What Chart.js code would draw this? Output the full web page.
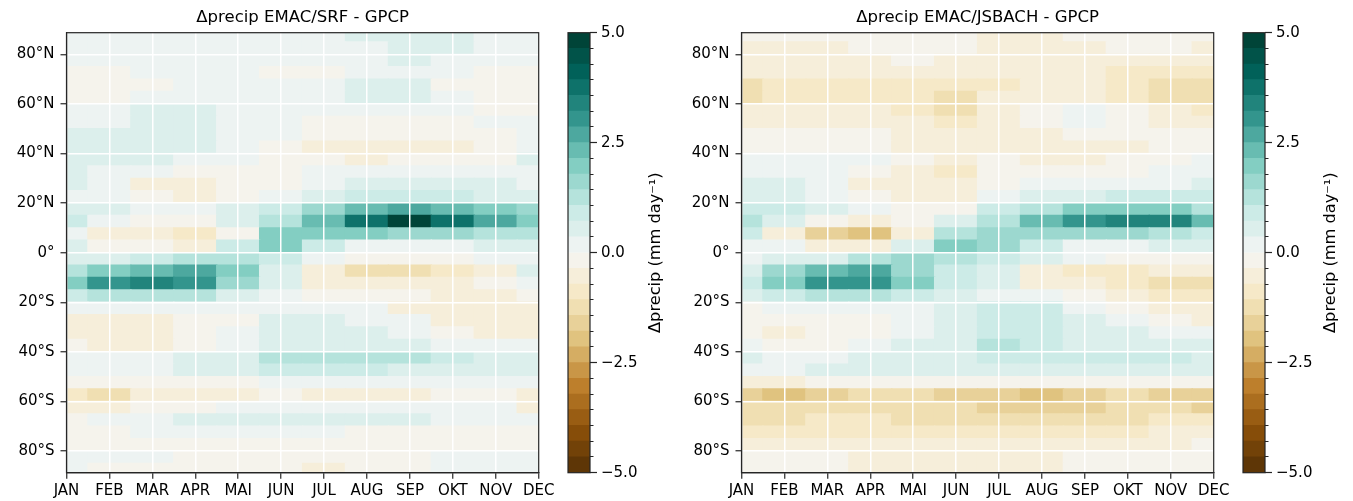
<!DOCTYPE html>
<html>
<head>
<meta charset="utf-8">
<script src="https://cdn.jsdelivr.net/npm/chart.js@4.4.1/dist/chart.umd.min.js"></script>
<style>
html,body{margin:0;padding:0;background:#fff;}
#wrap{position:relative;width:1353px;height:501px;overflow:hidden;background:#fff;}
canvas{position:absolute;top:0;}
</style>
</head>
<body>
<div id="wrap">
<canvas id="mapL" width="560" height="501" style="left:0px"></canvas>
<canvas id="cbarL" width="115" height="501" style="left:560px"></canvas>
<canvas id="mapR" width="560" height="501" style="left:675px"></canvas>
<canvas id="cbarR" width="118" height="501" style="left:1235px"></canvas>
</div>
<script>
// ---------------- data ----------------
const months = ['JAN','FEB','MAR','APR','MAI','JUN','JUL','AUG','SEP','OKT','NOV','DEC'];
const latitudes = [87.5,82.5,77.5,72.5,67.5,62.5,57.5,52.5,47.5,42.5,37.5,32.5,27.5,22.5,17.5,12.5,7.5,2.5,
  -2.5,-7.5,-12.5,-17.5,-22.5,-27.5,-32.5,-37.5,-42.5,-47.5,-52.5,-57.5,-62.5,-67.5,-72.5,-77.5,-82.5,-87.5];
const latTicks = [80,60,40,20,0,-20,-40,-60,-80];
const cbarTicks = [-5,-2.5,0,2.5,5];
const titleSRF = 'Δprecip EMAC/SRF - GPCP';
const titleJSBACH = 'Δprecip EMAC/JSBACH - GPCP';
const cbarLabel = 'Δprecip (mm day⁻¹)';

// Δprecip EMAC/SRF - GPCP (rows: latitudes, cols: months)
const srfMinusGpcp = [
  [0.2,0.2,0.2,0.2,0.2,0.2,0.2,0.4,0.5,0.4,0.2,0.2],
  [0.2,0.2,0.2,0.2,0.2,0.2,0.2,0.3,0.5,0.4,0.2,0.2],
  [0.2,0.2,0.2,0.2,0.2,0.2,0.2,0.2,0.4,0.3,0.2,0.2],
  [-0.2,-0.1,0.2,0.2,0.2,-0.1,-0.2,0.2,0.2,0.1,-0.1,-0.1],
  [-0.2,-0.2,-0.1,0.2,0.2,0.1,0.2,0.5,0.4,-0.1,-0.2,-0.2],
  [-0.2,-0.1,0.3,0.3,0.3,0.2,0.2,0.5,0.4,0.1,-0.1,-0.1],
  [0.2,0.2,0.5,0.4,0.2,0.2,0.2,0.2,0.2,0.2,-0.1,-0.2],
  [0.3,0.3,0.5,0.5,0.2,0.2,-0.1,-0.1,-0.1,-0.1,0.1,0.1],
  [0.5,0.4,0.5,0.5,0.2,0.1,-0.3,-0.3,-0.3,-0.3,-0.1,0.1],
  [0.5,0.5,0.5,0.4,0.2,-0.1,-0.4,-0.6,-0.6,-0.4,-0.2,0.1],
  [0.5,0.5,0.4,0.3,0.2,-0.1,-0.3,-0.4,-0.3,-0.3,-0.1,0.4],
  [0.4,0.3,0.1,-0.2,-0.3,-0.3,0.1,0.2,0.2,0.2,0.1,0.2],
  [0.4,0.2,-0.4,-0.5,-0.3,-0.3,0.3,0.5,0.5,0.5,0.4,0.3],
  [0.2,0.1,-0.3,-0.6,-0.2,0.1,0.6,0.8,0.9,0.8,0.7,0.6],
  [0.6,0.5,0.2,0.1,0.4,0.8,1.5,2.2,2.6,2.3,1.8,1.5],
  [0.8,0.2,-0.3,-0.3,0.6,1.3,2.3,3.8,4.8,3.8,2.8,2.1],
  [0.3,-0.5,-0.6,-1.0,-0.2,1.9,2.0,1.8,1.7,1.5,1.3,1.2],
  [0.4,-0.1,-0.3,-0.4,0.8,2.1,0.8,0.3,0.1,0.2,0.4,0.5],
  [0.5,0.6,0.8,1.2,1.3,0.8,0.2,-0.2,-0.2,-0.2,0.1,0.2],
  [1.2,1.8,2.2,2.8,1.8,0.6,-0.5,-1.1,-1.2,-0.8,-0.4,0.4],
  [2.0,2.9,3.3,3.0,1.5,0.5,-0.5,-0.7,-0.7,-0.6,-0.3,0.3],
  [1.0,1.3,1.4,1.1,0.6,0.3,-0.2,-0.3,-0.3,-0.4,-0.4,-0.2],
  [0.1,0.2,0.2,0.2,0.2,0.3,0.1,0.1,-0.4,-0.5,-0.5,-0.5],
  [-0.4,-0.4,-0.4,-0.3,-0.1,0.4,0.4,0.2,0.1,-0.5,-0.5,-0.5],
  [-0.5,-0.5,-0.5,-0.3,0.1,0.4,0.5,0.4,0.2,-0.2,-0.4,-0.4],
  [-0.2,-0.4,-0.4,-0.1,0.2,0.5,0.6,0.6,0.5,0.3,0.2,0.1],
  [0.1,0.1,0.2,0.4,0.6,1.2,1.2,1.2,1.1,0.8,0.6,0.5],
  [0.1,0.2,0.3,0.6,0.7,0.9,0.9,0.8,0.7,0.7,0.5,0.4],
  [-0.3,-0.3,-0.3,-0.2,-0.1,0.1,0.2,0.2,0.1,0.3,0.1,0.1],
  [-0.8,-1.2,-0.7,-0.5,-0.4,-0.3,-0.4,-0.4,-0.4,-0.3,-0.2,-0.7],
  [-0.4,-0.5,-0.3,-0.1,0.2,0.3,0.2,0.3,0.3,0.2,0.1,-0.4],
  [-0.1,0.1,0.3,0.6,0.7,0.7,0.5,0.5,0.4,0.2,0.1,0.1],
  [-0.2,-0.2,0.1,0.3,0.3,0.3,0.1,-0.1,-0.2,-0.2,-0.2,-0.2],
  [-0.1,-0.2,-0.2,-0.2,-0.2,-0.2,-0.2,-0.2,-0.2,-0.2,-0.2,-0.2],
  [0.1,0.1,0.1,-0.2,-0.2,-0.2,-0.2,-0.2,-0.2,0.1,0.1,0.1],
  [0.1,-0.1,-0.2,-0.2,-0.2,-0.3,-0.4,-0.3,-0.2,0.1,0.1,0.1]
];

// Δprecip EMAC/JSBACH - GPCP (rows: latitudes, cols: months)
const jsbachMinusGpcp = [
  [-0.2,-0.2,-0.2,-0.2,-0.2,-0.2,-0.4,-0.4,-0.3,-0.2,-0.2,-0.3],
  [-0.4,-0.4,-0.4,-0.3,-0.2,-0.2,-0.5,-0.5,-0.5,-0.3,-0.3,-0.4],
  [-0.5,-0.5,-0.5,-0.4,-0.3,-0.4,-0.5,-0.5,-0.5,-0.5,-0.5,-0.5],
  [-0.6,-0.6,-0.6,-0.6,-0.6,-0.6,-0.6,-0.5,-0.7,-0.9,-0.9,-0.9],
  [-1.2,-0.9,-0.9,-0.9,-0.9,-1.0,-0.8,-0.5,-0.6,-1.0,-1.2,-1.2],
  [-1.1,-0.9,-0.9,-0.9,-0.9,-1.2,-0.5,-0.4,-0.4,-0.9,-1.2,-1.1],
  [-0.7,-0.7,-0.6,-0.6,-1.0,-1.2,-0.5,-0.2,0.1,-0.3,-0.6,-0.8],
  [-0.6,-0.6,-0.5,-0.5,-0.7,-0.8,-0.5,-0.2,0.1,-0.2,-0.4,-0.5],
  [-0.2,-0.2,-0.2,-0.3,-0.5,-0.6,-0.5,-0.5,-0.3,-0.2,-0.2,-0.3],
  [-0.2,-0.2,-0.2,-0.2,-0.4,-0.5,-0.5,-0.5,-0.5,-0.4,-0.2,-0.2],
  [0.2,0.2,0.2,0.1,-0.3,-0.5,-0.3,-0.5,-0.4,-0.3,-0.2,0.1],
  [0.3,0.2,0.1,-0.3,-0.7,-0.8,-0.3,-0.2,-0.2,-0.1,0.1,0.2],
  [0.5,0.4,0.1,-0.4,-0.7,-0.7,-0.2,0.1,0.2,0.3,0.3,0.4],
  [0.6,0.4,0.1,-0.3,-0.5,-0.5,0.2,0.5,0.7,0.8,0.8,0.8],
  [1.0,0.8,0.5,0.1,-0.2,-0.2,0.8,1.4,1.9,2.1,1.8,1.3],
  [1.2,0.5,-0.3,-0.4,-0.2,0.5,1.4,2.3,3.0,3.4,3.5,2.4],
  [0.8,-0.4,-1.5,-2.0,-0.6,1.2,1.5,1.6,1.5,1.5,1.3,1.0],
  [0.3,0.1,-0.4,-0.5,0.5,1.8,1.6,0.9,0.2,0.2,0.4,0.6],
  [0.3,0.4,0.6,1.1,1.6,1.2,1.0,0.4,0.1,-0.1,-0.2,-0.3],
  [0.5,1.5,2.3,2.6,1.6,0.9,0.4,-0.5,-0.8,-1.0,-0.7,-0.5],
  [0.8,2.0,3.0,3.2,2.0,0.9,0.5,-0.4,-0.7,-0.8,-1.1,-1.1],
  [0.4,0.9,1.3,1.3,0.9,0.6,0.3,0.1,-0.3,-0.6,-0.9,-1.0],
  [-0.2,0.2,0.2,0.2,0.3,0.5,0.8,0.8,0.1,-0.2,-0.5,-0.6],
  [-0.2,-0.3,-0.2,-0.2,0.1,0.5,0.8,0.8,0.4,0.1,-0.2,-0.4],
  [-0.2,-0.4,-0.3,-0.2,0.1,0.6,1.0,0.9,0.6,0.5,0.3,0.1],
  [0.1,-0.1,-0.1,0.1,0.4,0.6,1.2,0.9,0.7,0.6,0.5,0.4],
  [0.5,0.3,0.2,0.4,0.6,0.7,0.8,0.8,0.8,0.8,0.8,0.7],
  [0.2,0.3,0.4,0.6,0.7,0.7,0.6,0.5,0.5,0.5,0.5,0.5],
  [-0.6,-0.5,-0.3,-0.2,-0.1,-0.2,-0.3,-0.3,-0.3,-0.3,-0.3,-0.3],
  [-1.6,-2.0,-1.6,-1.4,-1.4,-1.5,-1.7,-1.9,-1.7,-1.3,-1.5,-1.7],
  [-1.3,-1.4,-1.3,-1.2,-1.2,-1.3,-1.5,-1.6,-1.5,-1.4,-1.4,-1.5],
  [-1.1,-1.1,-1.0,-1.0,-1.1,-1.2,-1.2,-1.2,-1.2,-1.1,-1.0,-1.0],
  [-0.9,-0.9,-0.8,-0.8,-0.8,-0.9,-0.9,-0.9,-0.9,-0.8,-0.7,-0.6],
  [-0.5,-0.6,-0.6,-0.6,-0.6,-0.6,-0.6,-0.6,-0.5,-0.5,-0.4,-0.3],
  [-0.2,-0.2,-0.2,-0.4,-0.5,-0.5,-0.5,-0.5,-0.2,-0.2,-0.2,-0.2],
  [-0.2,-0.2,-0.2,-0.4,-0.5,-0.5,-0.5,-0.4,-0.2,-0.2,-0.2,-0.2]
];

// ---------------- style / colormap ----------------
const FONT = "'DejaVu Sans', sans-serif";
const INK = '#262626';
const VMIN = -5, VMAX = 5, NBINS = 28;
const BRBG = [[84,48,5],[140,81,10],[191,129,45],[223,194,125],[246,232,195],[245,245,245],
              [199,234,229],[128,205,193],[53,151,143],[1,102,94],[0,60,48]];
function binColor(i){
  const t = (i + 0.5) / NBINS * 10;
  const k = Math.min(9, Math.floor(t)), f = t - k;
  const a = BRBG[k], b = BRBG[k+1];
  const c = a.map((v,j)=>Math.round(v + (b[j]-v)*f));
  return `rgb(${c[0]},${c[1]},${c[2]})`;
}
function valueColor(v){
  let i = Math.floor((v - VMIN) / (VMAX - VMIN) * NBINS);
  i = Math.max(0, Math.min(NBINS-1, i));
  return binColor(i);
}
const halfCell = Math.abs(latitudes[0]-latitudes[1]) / 2;

const framePlugin = {
  id: 'frame',
  afterDraw(chart){
    const {ctx, chartArea:a} = chart;
    ctx.save();
    ctx.strokeStyle = INK; ctx.lineWidth = 1.2;
    ctx.strokeRect(a.left, a.top, a.right - a.left, a.bottom - a.top);
    ctx.restore();
  }
};
const cbarLabelPlugin = {
  id: 'cbarLabel',
  afterDraw(chart, args, opts){
    if (!opts || !opts.text) return;
    const ctx = chart.ctx, a = chart.chartArea;
    ctx.save();
    ctx.translate(opts.x, (a.top + a.bottom) / 2);
    ctx.rotate(-Math.PI / 2);
    ctx.textAlign = 'center'; ctx.textBaseline = 'middle';
    ctx.font = `${opts.size}px ${FONT}`;
    ctx.fillStyle = '#000';
    ctx.fillText(opts.text, 0, 0);
    ctx.restore();
  }
};

function heatmap(id, title, grid){
  const pts = [], cols = [];
  latitudes.forEach((lat, r) => {
    months.forEach((m, c) => {
      pts.push({x: c, y: [lat - halfCell, lat + halfCell]});
      cols.push(valueColor(grid[r][c]));
    });
  });
  return new Chart(document.getElementById(id), {
    type: 'bar',
    data: { datasets: [{ data: pts, backgroundColor: cols, borderWidth: 0,
      barPercentage: 1, categoryPercentage: 1, inflateAmount: 0.7, clip: 0, grouped: false }] },
    options: {
      responsive: false, animation: false, events: [],
      layout: { padding: { left: 0, right: 21.3, top: 0, bottom: 0 } },
      plugins: {
        legend: { display: false }, tooltip: { enabled: false },
        title: { display: true, text: title, fullSize: false, color: '#000',
          font: { family: FONT, size: 16.5, weight: 'normal' }, padding: { top: 8.3, bottom: 4.6 } }
      },
      scales: {
        x: {
          type: 'linear', min: 0, max: months.length - 1, offset: false,
          afterBuildTicks: s => { s.ticks = months.map((m, i) => ({ value: i })); },
          afterFit: s => { s.height = 28.3; },
          ticks: { callback: v => months[v], color: '#000', font: { family: FONT, size: 15 },
            padding: 3, maxRotation: 0, minRotation: 0, autoSkip: false, z: 2 },
          grid: { z: 1, color: '#ffffff', lineWidth: 1.5, offset: false, tickColor: INK, tickLength: 6, tickWidth: 1.2 },
          border: { z: 2, color: INK, width: 1.2 }
        },
        y: {
          type: 'linear', min: -88.75, max: 88.75,
          afterBuildTicks: s => { s.ticks = latTicks.map(v => ({ value: v })); },
          afterFit: s => { s.width = 66.5; },
          ticks: { callback: v => v === 0 ? '0°' : Math.abs(v) + '°' + (v > 0 ? 'N' : 'S'),
            color: '#000', font: { family: FONT, size: 15 }, padding: 6, z: 2 },
          grid: { z: 1, color: '#ffffff', lineWidth: 1.5, tickColor: INK, tickLength: 6, tickWidth: 1.2 },
          border: { z: 2, color: INK, width: 1.2 }
        }
      }
    },
    plugins: [framePlugin]
  });
}

function colorbar(id, width){
  const step = (VMAX - VMIN) / NBINS;
  const bounds = [];
  for (let i = 0; i <= NBINS; i++) bounds.push(VMIN + i * step);
  const datasets = [];
  for (let i = 0; i < NBINS; i++) {
    datasets.push({ data: [[bounds[i], bounds[i+1]]], backgroundColor: binColor(i), borderWidth: 0,
      barPercentage: 1, categoryPercentage: 1, grouped: false, inflateAmount: 0.5, clip: 0 });
  }
  return new Chart(document.getElementById(id), {
    type: 'bar',
    data: { labels: [''], datasets },
    options: {
      responsive: false, animation: false, events: [],
      layout: { padding: { left: 8, right: 0, top: 32.7, bottom: 28.3 } },
      plugins: { legend: { display: false }, tooltip: { enabled: false },
        cbarLabel: { text: cbarLabel, x: 96, size: 16.2 } },
      scales: {
        x: { display: false },
        yMinor: {
          type: 'linear', position: 'right', min: VMIN, max: VMAX, weight: 0,
          afterBuildTicks: s => { s.ticks = bounds.map(v => ({ value: v })); },
          afterFit: s => { s.width = 0; },
          ticks: { display: false },
          grid: { drawOnChartArea: false, tickLength: 3.5, tickColor: INK, tickWidth: 1 },
          border: { display: false }
        },
        y: {
          type: 'linear', position: 'right', min: VMIN, max: VMAX, weight: 1,
          afterBuildTicks: s => { s.ticks = cbarTicks.map(v => ({ value: v })); },
          afterFit: s => { s.width = width - 30; },
          ticks: { callback: v => (v < 0 ? '\u2212' : '') + Math.abs(v).toFixed(1),
            color: '#000', font: { family: FONT, size: 15 }, padding: 4 },
          grid: { drawOnChartArea: false, tickLength: 7, tickColor: INK, tickWidth: 1.2 },
          border: { display: false }
        }
      }
    },
    plugins: [framePlugin, cbarLabelPlugin]
  });
}

heatmap('mapL', titleSRF, srfMinusGpcp);
heatmap('mapR', titleJSBACH, jsbachMinusGpcp);
colorbar('cbarL', 115);
colorbar('cbarR', 118);
</script>
</body>
</html>
